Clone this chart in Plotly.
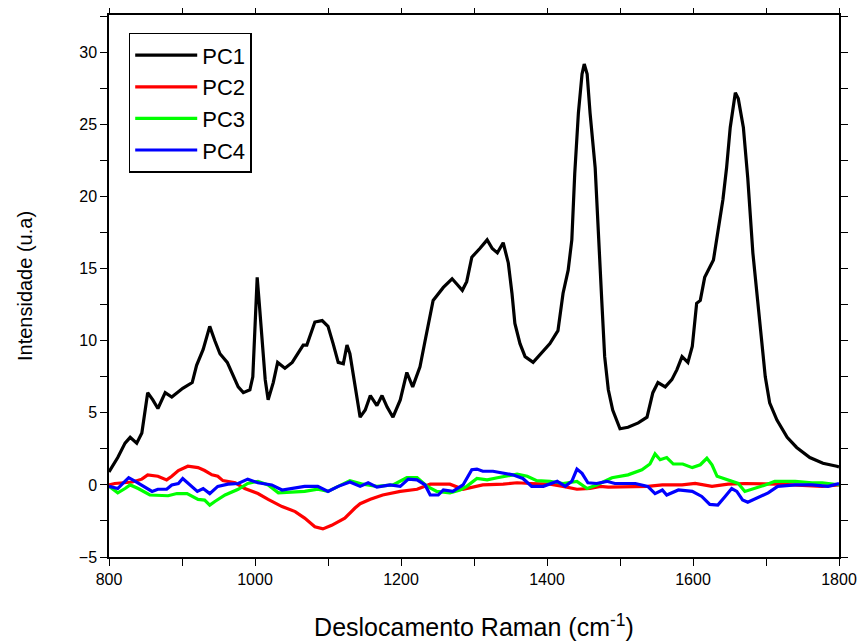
import plotly.graph_objects as go

# ---- data ----
pc1_x = [800, 812, 822, 829, 838, 845, 853, 860, 867, 877, 886, 901, 914, 920, 929, 938, 945, 952, 962, 970,
         977, 984, 993, 997, 1001, 1003, 1006, 1010, 1014, 1018, 1025, 1031, 1041, 1051, 1059, 1066, 1071, 1082,
         1092, 1100, 1107, 1114, 1121, 1126, 1130, 1137, 1144, 1151, 1158, 1167, 1174, 1181, 1189, 1199, 1208,
         1216, 1226, 1233, 1240, 1244, 1258, 1270, 1277, 1284, 1290, 1297, 1308, 1318, 1325, 1332, 1340, 1347,
         1352, 1356, 1363, 1370, 1381, 1393, 1404, 1415, 1422, 1429, 1434, 1438, 1443, 1448, 1451, 1455, 1459,
         1466, 1470, 1475, 1479, 1484, 1490, 1500, 1511, 1525, 1537, 1545, 1552, 1562, 1571, 1578, 1585, 1593,
         1599, 1605, 1610, 1616, 1628, 1634, 1641, 1646, 1651, 1658, 1662, 1669, 1675, 1682, 1692, 1699, 1705,
         1715, 1729, 1742, 1760, 1778, 1797, 1800]
pc1_y = [0.9, 1.9, 2.9, 3.3, 2.9, 3.6, 6.4, 5.9, 5.3, 6.4, 6.1, 6.7, 7.1, 8.3, 9.4, 11.0, 10.0, 9.1, 8.5, 7.6,
         6.8, 6.4, 6.6, 7.5, 12.0, 14.4, 12.5, 10.0, 7.3, 5.9, 7.1, 8.5, 8.1, 8.5, 9.1, 9.7, 9.7, 11.3,
         11.4, 11.0, 9.8, 8.5, 8.4, 9.7, 9.1, 6.8, 4.7, 5.2, 6.2, 5.5, 6.2, 5.4, 4.7, 5.9, 7.8,
         6.8, 8.2, 10.0, 11.9, 12.8, 13.7, 14.3, 13.9, 13.5, 14.1, 15.8, 16.4, 17.0, 16.4, 16.1, 16.8, 15.4,
         13.3, 11.2, 9.8, 8.9, 8.5, 9.2, 9.8, 10.7, 13.3, 14.9, 17.0, 21.6, 25.8, 28.5, 29.2, 28.5, 25.8,
         22.0, 17.5, 12.8, 8.9, 6.6, 5.2, 3.9, 4.0, 4.3, 4.7, 6.4, 7.1, 6.8, 7.3, 8.0, 8.9, 8.5,
         9.6, 12.6, 12.8, 14.4, 15.6, 17.5, 19.8, 22.0, 24.8, 27.2, 26.8, 24.8, 21.3, 16.1, 11.0, 7.5, 5.7,
         4.5, 3.3, 2.6, 1.9, 1.5, 1.3, 1.25]

pc2_x = [800, 808, 832, 845, 853, 867, 879, 886, 895, 908, 922, 931, 941, 949, 956, 973, 986, 1004, 1018, 1037,
         1055, 1068, 1082, 1093, 1105, 1123, 1137, 1144, 1158, 1175, 1199, 1222, 1240, 1267, 1285, 1312, 1340,
         1359, 1377, 1404, 1422, 1441, 1459, 1473, 1484, 1511, 1538, 1558, 1585, 1603, 1626, 1648, 1671, 1716,
         1777, 1800]
pc2_y = [0.0, 0.1, 0.2, 0.4, 0.7, 0.6, 0.35, 0.6, 1.0, 1.3, 1.2, 1.0, 0.7, 0.6, 0.3, 0.15, -0.25, -0.6, -1.0, -1.5,
         -1.85, -2.3, -2.9, -3.05, -2.8, -2.3, -1.6, -1.3, -1.0, -0.7, -0.45, -0.3, 0.05, 0.05, -0.3, 0.0, 0.05,
         0.15, 0.1, 0.05, -0.1, -0.3, -0.25, -0.1, -0.15, -0.1, -0.1, 0.0, 0.0, 0.1, -0.1, 0.05, 0.1, 0.05,
         -0.1, 0.0]

pc3_x = [800, 812, 822, 829, 840, 856, 881, 893, 907, 922, 931, 938, 945, 959, 977, 990, 1004, 1018, 1032, 1051,
         1068, 1086, 1100, 1114, 1130, 1148, 1167, 1189, 1208, 1222, 1236, 1249, 1267, 1281, 1290, 1304, 1318,
         1332, 1345, 1359, 1373, 1386, 1404, 1422, 1441, 1455, 1468, 1489, 1511, 1530, 1541, 1548, 1555, 1564,
         1573, 1586, 1599, 1610, 1619, 1626, 1633, 1648, 1662, 1671, 1685, 1699, 1712, 1740, 1763, 1777, 1800]
pc3_y = [-0.1, -0.55, -0.25, 0.0, -0.25, -0.7, -0.75, -0.6, -0.6, -1.0, -1.05, -1.4, -1.15, -0.7, -0.3, 0.1, 0.25,
         0.0, -0.55, -0.5, -0.45, -0.3, -0.45, -0.1, 0.3, 0.05, -0.1, 0.0, 0.5, 0.5, -0.1, -0.45, -0.55, -0.35,
         -0.1, 0.45, 0.35, 0.5, 0.6, 0.75, 0.6, 0.3, 0.25, 0.1, 0.25, -0.25, 0.0, 0.5, 0.7, 1.05, 1.45, 2.15,
         1.75, 1.9, 1.45, 1.45, 1.2, 1.4, 1.85, 1.4, 0.6, 0.35, 0.1, -0.45, -0.25, 0.0, 0.25, 0.25, 0.15, 0.15,
         0.0]

pc4_x = [800, 812, 819, 827, 836, 847, 859, 867, 879, 886, 895, 901, 911, 921, 929, 938, 949, 963, 977, 990,
         1004, 1023, 1037, 1051, 1068, 1086, 1100, 1114, 1130, 1144, 1155, 1167, 1185, 1199, 1210, 1222, 1233,
         1240, 1251, 1258, 1271, 1285, 1297, 1304, 1312, 1326, 1340, 1353, 1367, 1379, 1395, 1414, 1425, 1434,
         1441, 1448, 1456, 1468, 1482, 1493, 1521, 1538, 1548, 1558, 1564, 1580, 1599, 1612, 1623, 1634, 1644,
         1653, 1660, 1668, 1675, 1689, 1703, 1716, 1740, 1763, 1785, 1800]
pc4_y = [-0.1, -0.25, 0.1, 0.5, 0.25, -0.1, -0.45, -0.3, -0.3, 0.0, 0.1, 0.45, 0.0, -0.45, -0.25, -0.6, -0.1,
         0.05, 0.1, 0.4, 0.15, 0.0, -0.35, -0.25, -0.1, -0.1, -0.45, -0.1, 0.2, -0.1, 0.15, -0.15, 0.0, -0.1,
         0.4, 0.35, 0.0, -0.7, -0.7, -0.35, -0.45, 0.0, 1.05, 1.1, 0.95, 0.95, 0.8, 0.7, 0.45, -0.1, -0.1, 0.25,
         -0.1, 0.25, 1.1, 0.8, 0.15, 0.1, 0.25, 0.1, 0.1, -0.1, -0.6, -0.35, -0.7, -0.35, -0.45, -0.8, -1.35,
         -1.4, -0.8, -0.25, -0.45, -1.05, -1.2, -0.9, -0.55, -0.1, 0.0, 0.0, -0.1, 0.1]

series_names = ["PC1", "PC2", "PC3", "PC4"]
series_colors = ["#000000", "#ff0000", "#00ff00", "#0000ff"]

x_tick_vals = [800, 1000, 1200, 1400, 1600, 1800]
y_tick_vals = [-5, 0, 5, 10, 15, 20, 25, 30]

# ---- figure ----
fig = go.Figure()
for name, color, xs, ys in zip(series_names, series_colors,
                               [pc1_x, pc2_x, pc3_x, pc4_x],
                               [pc1_y, pc2_y, pc3_y, pc4_y]):
    fig.add_trace(go.Scatter(x=xs, y=ys, mode="lines", name=name,
                             line=dict(color=color, width=3.2)))

font_family = "Liberation Sans, Arial, sans-serif"

axis_common = dict(showgrid=False, zeroline=False, showline=True, linecolor="black", linewidth=1.5,
                   mirror="ticks", ticks="outside", ticklen=7, tickwidth=1.2, tickcolor="black",
                   automargin=False,
                   tickfont=dict(family=font_family, size=16, color="black"))

# page body adds an 8px offset, so margins are shifted accordingly
fig.update_layout(
    width=867, height=643,
    margin=dict(l=101, r=36, t=7, b=94),
    paper_bgcolor="white", plot_bgcolor="white",
    showlegend=True,
    legend=dict(x=0.027, y=0.967, xanchor="left", yanchor="top",
                bgcolor="white", bordercolor="black", borderwidth=1.5,
                font=dict(family=font_family, size=22, color="black"),
                tracegroupgap=0, itemwidth=62),
    xaxis=dict(range=[800, 1800], tickvals=x_tick_vals,
               minor=dict(dtick=100, ticks="outside", ticklen=7, tickcolor="black", tickwidth=1.2),
               title=dict(text="Deslocamento Raman (cm<sup>-1</sup>)",
                          font=dict(family=font_family, size=25, color="black"), standoff=32),
               **axis_common),
    yaxis=dict(range=[-5, 32.6], tickvals=y_tick_vals,
               minor=dict(dtick=2.5, ticks="outside", ticklen=7, tickcolor="black", tickwidth=1.2),
               title=dict(text="Intensidade (u.a)",
                          font=dict(family=font_family, size=20, color="black"), standoff=41),
               **axis_common),
)

fig.write_html("out.html")
